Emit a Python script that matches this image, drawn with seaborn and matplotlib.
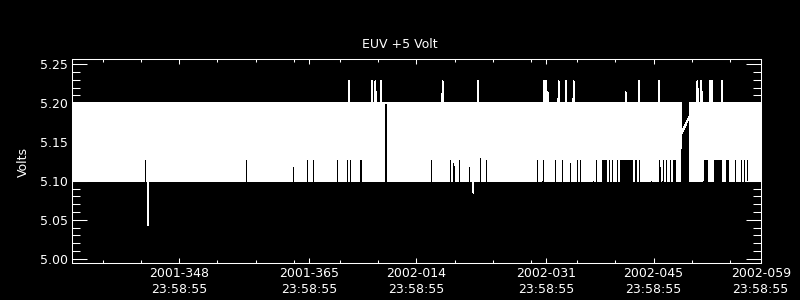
import numpy as np
import pandas as pd
import matplotlib
matplotlib.use("Agg")
import matplotlib.pyplot as plt
import seaborn as sns
from matplotlib.ticker import FixedLocator, MultipleLocator, FormatStrFormatter

# ---------------- text ----------------
title = "EUV +5 Volt"
y_label = "Volts"

# time axis: days since 2001-334 23:58:55
span_days = [0.0, 90.0]
x_tick_days = [14, 31, 45, 62, 76, 90]
x_tick_labels = ["2001-348\n23:58:55", "2001-365\n23:58:55", "2002-014\n23:58:55",
                 "2002-031\n23:58:55", "2002-045\n23:58:55", "2002-059\n23:58:55"]
x_minor_days = [4, 9, 19, 24, 29, 35, 40, 50, 55, 60, 66, 71, 81, 86]
y_ticks = [5.00, 5.05, 5.10, 5.15, 5.20, 5.25]
y_limits = [4.994, 5.2565]

# ---------------- data ----------------
sample_step_days = 0.02          # telemetry toggles between two ADC levels
level_low = 5.100
level_high = 5.200

# stretches where the lower reading is 5.128 / 5.142 instead of 5.100
raised_start = [9.42, 22.62, 28.76, 30.59, 31.37, 34.51, 35.82, 36.22, 37.53, 37.84,
                46.79, 49.28, 49.75, 50.45, 51.76, 53.20, 53.98, 60.65, 61.38, 62.74,
                63.08, 63.91, 64.96, 65.93, 66.31, 66.82, 67.10, 67.30, 67.65, 67.96,
                68.40, 69.09, 70.06, 70.49, 71.10, 71.53, 73.52, 74.03, 75.62, 76.59,
                77.06, 77.55, 77.98, 78.45, 79.45, 81.90, 82.42, 83.82, 85.30, 86.53,
                87.00, 87.30, 87.74, 88.12, 89.00]
raised_end = [9.74, 22.94, 29.08, 30.91, 31.69, 34.83, 36.14, 36.53, 37.84, 38.05,
              47.11, 49.60, 50.10, 50.77, 52.08, 53.52, 54.30, 60.97, 61.73, 63.03,
              63.37, 64.23, 65.28, 66.25, 66.64, 67.06, 67.26, 67.48, 67.92, 68.27,
              68.74, 70.00, 70.40, 70.83, 71.44, 73.44, 73.95, 74.34, 75.93, 77.02,
              77.45, 77.89, 78.41, 79.11, 79.58, 82.16, 83.20, 85.12, 85.99, 86.96,
              87.20, 87.65, 88.08, 88.43, 89.30]
raised_level = [5.128] * 9 + [5.142] + [5.128] * 5 + [5.142] + [5.128] * 28 + [5.142] \
    + [5.128] * 5 + [5.142] + [5.128] * 4

# single readings above the band
upper_spike_day = [36.11, 39.24, 39.64, 40.38, 48.39, 53.10, 61.72, 61.88, 62.11, 63.55,
                   64.47, 65.51, 72.31, 74.14, 76.65, 81.72, 82.18, 82.33, 83.42, 83.64,
                   84.98]
upper_spike_value = [5.2285, 5.2285, 5.2285, 5.2285, 5.2285, 5.2285, 5.2285, 5.2285, 5.214,
                     5.2285, 5.2285, 5.2285, 5.214, 5.2285, 5.2285, 5.2285, 5.2285, 5.214,
                     5.2285, 5.2285, 5.2285]
# single readings below the band
lower_spike_day = [9.97, 52.44]
lower_spike_value = [5.043, 5.085]

# data gaps (line joins the readings on either side)
gap_start = [40.84, 79.58]
gap_end = [41.27, 80.76]
gap_before_value = [5.200, 5.160]
gap_after_value = [5.200, 5.184]

# ---------------- build series ----------------
t = np.arange(span_days[0], span_days[1] + sample_step_days / 2, sample_step_days)
idx = np.arange(t.size)
low = np.full(t.size, level_low)
for a, b, lv in zip(raised_start, raised_end, raised_level):
    low[(t >= a) & (t < b)] = lv
v = np.where(idx % 2 == 0, low, level_high)
for d, s in zip(upper_spike_day, upper_spike_value):
    i = int(round(d / sample_step_days))
    if i % 2 == 0:
        i += 1
    v[i] = s
for d, s in zip(lower_spike_day, lower_spike_value):
    i = int(round(d / sample_step_days))
    if i % 2 == 1:
        i += 1
    v[i] = s
keep = np.ones(t.size, bool)
for a, b, vb, va in zip(gap_start, gap_end, gap_before_value, gap_after_value):
    keep &= ~((t > a) & (t < b))
    v[np.where(t <= a)[0][-1]] = vb
    v[np.where(t >= b)[0][0]] = va
df = pd.DataFrame({"day": t[keep], "volts": v[keep]})

# ---------------- plot ----------------
sns.set_theme(style="dark")
plt.rcParams.update({
    "font.family": ["DejaVu Sans"],
    "figure.facecolor": "black",
    "axes.facecolor": "black",
    "savefig.facecolor": "black",
    "text.color": "white",
    "axes.labelcolor": "white",
    "xtick.color": "white",
    "ytick.color": "white",
    "axes.edgecolor": "white",
    "axes.grid": False,
})

fig = plt.figure(figsize=(8, 3), dpi=100)
ax = fig.add_axes([72 / 800, 1 - 263.3 / 300, 688.7 / 800, 204 / 300])
sns.lineplot(data=df, x="day", y="volts", estimator=None, sort=False, color="white",
             linewidth=0.72, antialiased=False, legend=False, ax=ax)

ax.set_xlim(span_days)
ax.set_ylim(y_limits)
ax.set_xlabel("")
ax.set_ylabel("")
for s in ax.spines.values():
    s.set_color("white")
    s.set_linewidth(0.75)

ax.xaxis.set_major_locator(FixedLocator(x_tick_days))
ax.set_xticklabels(x_tick_labels, fontsize=9, color="white")
for lab in ax.get_xticklabels():
    lab.set_linespacing(1.35)
ax.xaxis.set_minor_locator(FixedLocator(x_minor_days))
ax.yaxis.set_major_locator(FixedLocator(y_ticks))
ax.yaxis.set_major_formatter(FormatStrFormatter("%.2f"))
ax.yaxis.set_minor_locator(MultipleLocator(0.01))

ax.tick_params(axis="x", which="major", direction="in", length=3.8, width=0.75,
               top=True, bottom=True, labelsize=9, pad=2.5, colors="white")
ax.tick_params(axis="x", which="minor", direction="in", length=1.9, width=0.75,
               top=True, bottom=True, colors="white")
ax.tick_params(axis="y", which="major", direction="in", length=10.6, width=0.75,
               left=True, right=True, labelsize=9, pad=3, colors="white")
ax.tick_params(axis="y", which="minor", direction="in", length=5.8, width=0.75,
               left=True, right=True, colors="white")

fig.text(0.5, 1 - 45 / 300, title, ha="center", va="center", fontsize=9, color="white")
fig.text(23 / 800, 1 - 162 / 300, y_label, ha="center", va="center", rotation=90,
         fontsize=9, color="white")

fig.savefig("out.png", dpi=100, facecolor="black")
